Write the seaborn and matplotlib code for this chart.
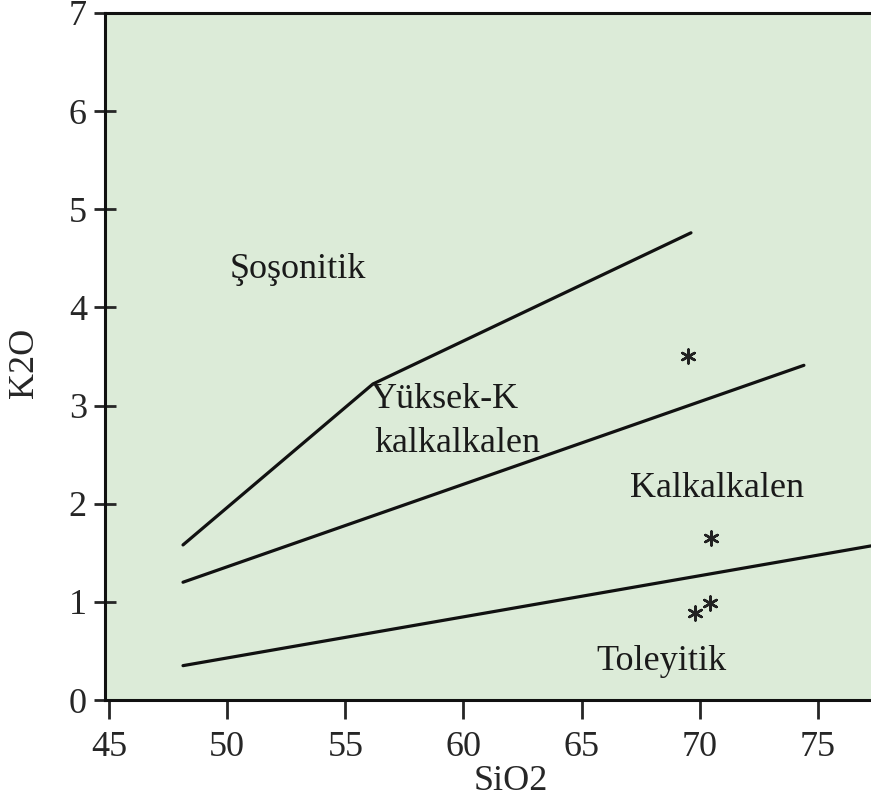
import pandas as pd
import matplotlib
matplotlib.use('Agg')
import matplotlib.pyplot as plt
import seaborn as sns

# boundary lines of the K2O - SiO2 diagram
sosonitik_x = [48.13, 56.17, 69.63]
sosonitik_y = [1.58, 3.22, 4.76]
yuksek_x = [48.13, 74.41]
yuksek_y = [1.20, 3.41]
toleyitik_x = [48.13, 77.25]
toleyitik_y = [0.35, 1.57]

# samples
sample_sio2 = [69.50, 70.48, 69.80, 70.43]
sample_k2o = [3.50, 1.65, 0.89, 0.99]

# field names
field_names = ['Şoşonitik', 'Yüksek-K', 'kalkalkalen', 'Kalkalkalen', 'Toleyitik']
field_x = [53.0, 59.22, 59.73, 70.73, 68.40]
field_y = [4.30, 2.98, 2.53, 2.07, 0.31]

x_ticks = [45, 50, 55, 60, 65, 70, 75]
y_ticks = [0, 1, 2, 3, 4, 5, 6, 7]

lines = pd.concat([
    pd.DataFrame({'SiO2': sosonitik_x, 'K2O': sosonitik_y, 'line': 'a'}),
    pd.DataFrame({'SiO2': yuksek_x, 'K2O': yuksek_y, 'line': 'b'}),
    pd.DataFrame({'SiO2': toleyitik_x, 'K2O': toleyitik_y, 'line': 'c'}),
])
samples = pd.DataFrame({'SiO2': sample_sio2, 'K2O': sample_k2o})

sns.set_style('ticks')
plt.rcParams['font.family'] = ['Liberation Serif', 'DejaVu Serif']

fig = plt.figure(figsize=(8.71, 8.10), dpi=100)
ax = fig.add_axes([0.1206, 0.1358, 0.8794, 0.8482])
ax.set_facecolor('#dcebd8')

sns.lineplot(data=lines, x='SiO2', y='K2O', units='line', estimator=None,
             sort=False, color='#111111', linewidth=2.3, ax=ax)
sns.scatterplot(data=samples, x='SiO2', y='K2O', marker=(6, 2, 0), s=100,
                color='#222222', linewidth=1.8, ax=ax)

for name, x, y in zip(field_names, field_x, field_y):
    ax.text(x, y, name, ha='center', va='baseline', fontsize=26, color='#1a1a1a')

ax.set_xlim(44.83, 77.25)
ax.set_ylim(0, 7)
ax.set_xticks(x_ticks)
ax.set_yticks(y_ticks)
ax.tick_params(axis='x', direction='out', length=14, width=2, labelsize=26, pad=8)
ax.tick_params(axis='y', direction='inout', length=16, width=2, labelsize=26, pad=5)

for side in ['left', 'bottom', 'top']:
    ax.spines[side].set_linewidth(2.2)
    ax.spines[side].set_color('#111111')
ax.spines['right'].set_visible(False)

ax.set_xlabel('SiO2', fontsize=26)
ax.set_ylabel('K2O', fontsize=26)
ax.xaxis.set_label_coords(0.53, -0.095)
ax.yaxis.set_label_coords(-0.083, 0.49)

fig.savefig('out.png', dpi=100)
